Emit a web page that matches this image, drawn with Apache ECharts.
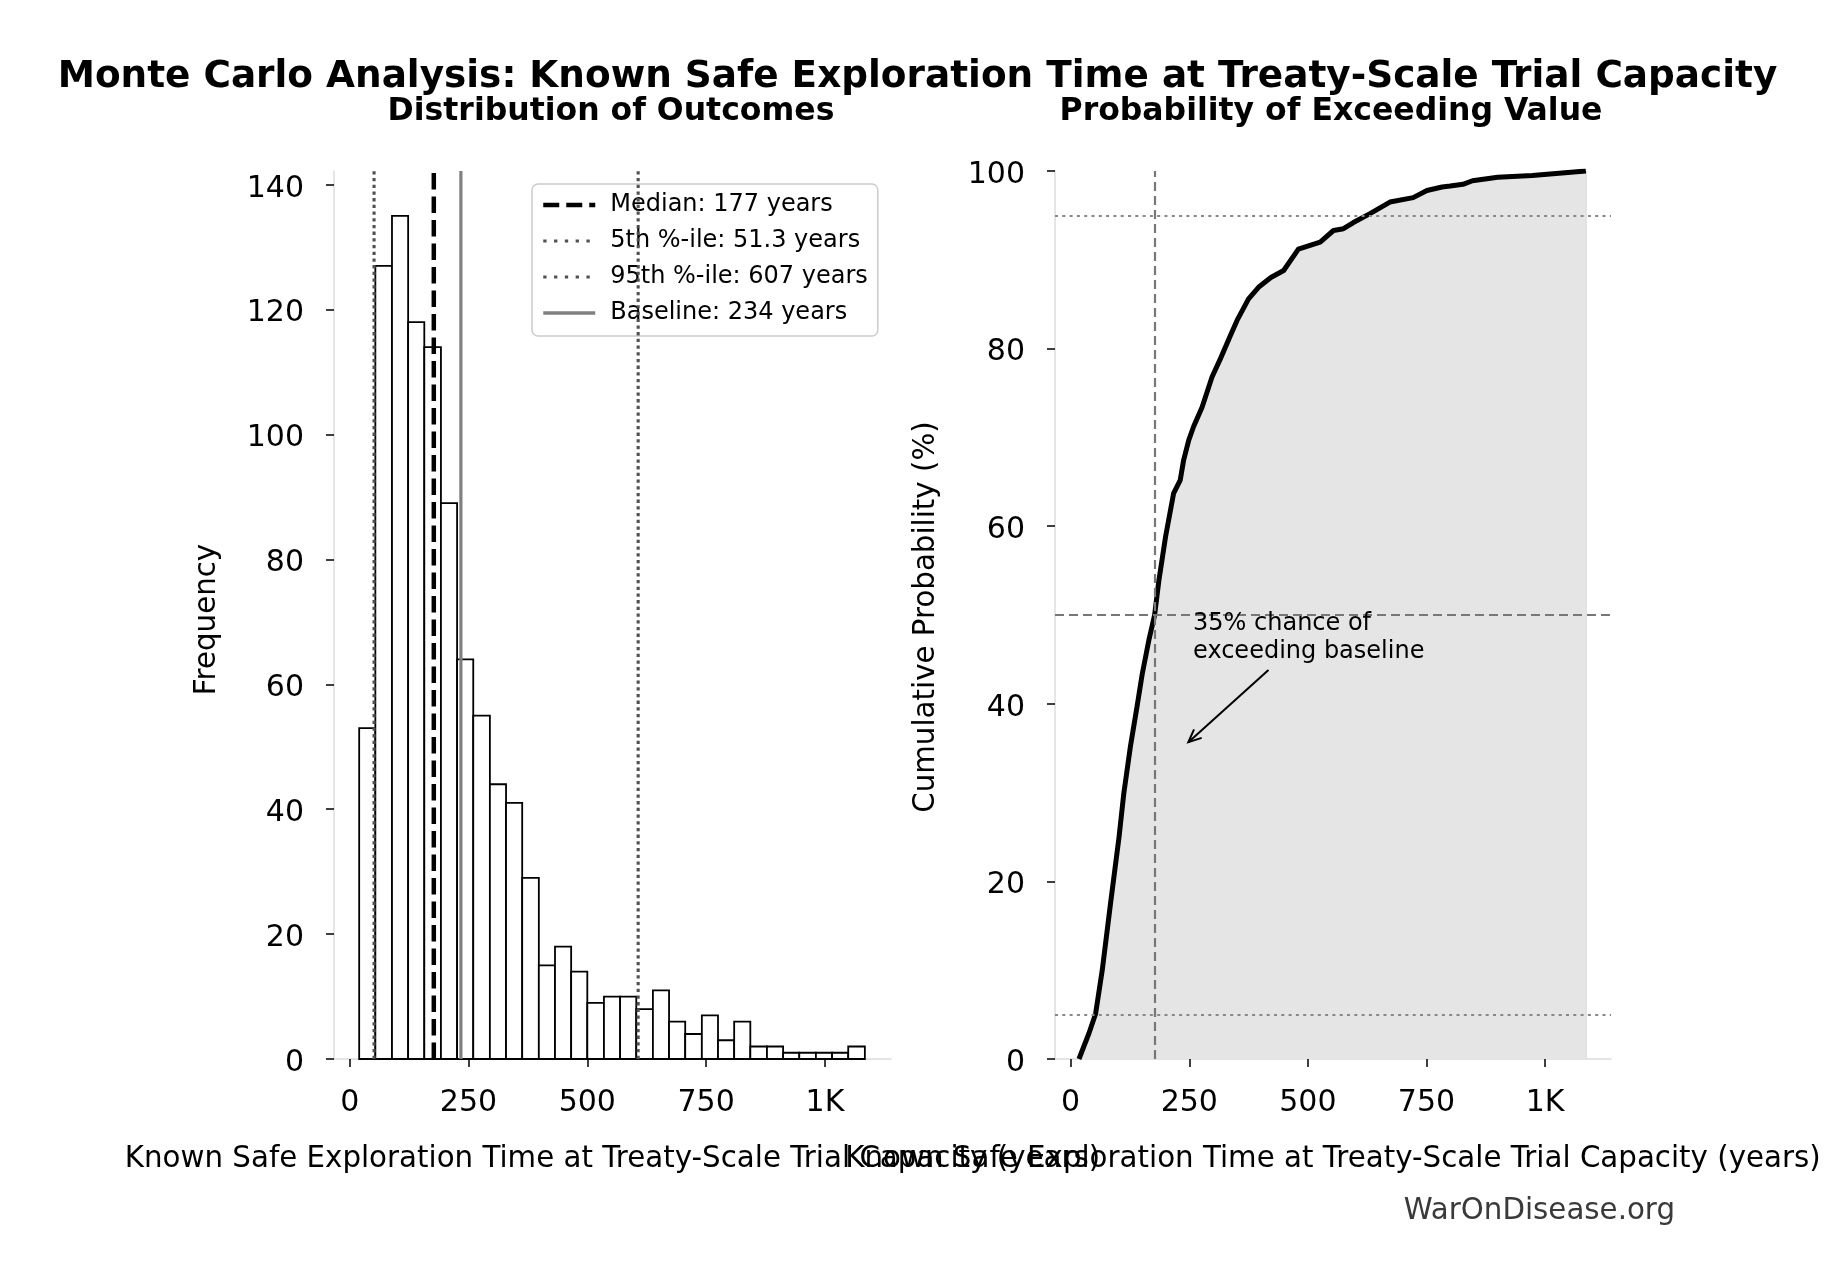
<!DOCTYPE html>
<html>
<head>
<meta charset="utf-8">
<script src="https://cdn.jsdelivr.net/npm/echarts@6/dist/echarts.min.js"></script>
<style>
  html, body { margin: 0; padding: 0; background: #fff; }
  #chart { width: 1835px; height: 1280px; }
</style>
</head>
<body>
<div id="chart"></div>
<script>
// histogram: bin edges (years) and counts
var binEdges = [20, 54, 89, 123, 157, 192, 226, 260, 295, 329, 363, 398, 432, 466, 500, 535,
                569, 603, 638, 672, 706, 741, 775, 809, 843, 878, 912, 946, 981, 1015, 1049, 1084];
var binCounts = [53, 127, 135, 118, 114, 89, 64, 55, 44, 41, 29, 15, 18, 14, 9, 10,
                 10, 8, 11, 6, 4, 7, 3, 6, 2, 2, 1, 1, 1, 1, 2];

// reference values (years)
var medianYears = 177;
var p5Years = 51.3;
var p95Years = 607;
var baselineYears = 234;

// cumulative curve: [years, cumulative %]
var cdfPoints = [
  [17.5, 0], [38.6, 2.9], [52.6, 5.1], [66.6, 10], [84, 17.5], [102, 25], [112, 29.9],
  [126, 35.2], [140, 39.7], [151, 43.4], [165, 47.2], [177, 50], [186, 53.9], [200, 58.8],
  [217, 63.7], [231, 65.2], [238, 67.4], [249, 69.7], [259, 71.2], [277, 73.4], [298, 76.8],
  [316, 78.9], [337, 81.5], [351, 83.2], [375, 85.6], [396, 86.9], [422, 88], [449, 88.8],
  [480, 91.2], [526, 92], [554, 93.3], [575, 93.5], [596, 94.2], [631, 95.2], [673, 96.5],
  [722, 97], [751, 97.8], [783, 98.2], [800, 98.3], [827, 98.5], [847, 98.9], [900, 99.3],
  [973, 99.5], [1086, 100]
];
var pctLines = [5, 50, 95];

// ticks
var xTicks = [0, 250, 500, 750, 1000];
var freqTicks = [0, 20, 40, 60, 80, 100, 120, 140];
var probTicks = [0, 20, 40, 60, 80, 100];

// annotation: arrow target, arrow tail and text anchor in data units
var annoTip = [234, 35];
var annoTail = [417, 43.8];
var annoText = [258, 50.6];

var FONT = 'DejaVu Sans';
var xName = 'Known Safe Exploration Time at Treaty-Scale Trial Capacity (years)';

var dom = document.getElementById('chart');
var myChart = echarts.init(dom, null, { renderer: 'canvas' });

function kFmt(v) {
  return v >= 1000 ? (v / 1000) + 'K' : String(v);
}

function xAxisFor(idx) {
  return {
    type: 'value', gridIndex: idx, min: -33, max: 1139,
    splitLine: { show: false },
    axisLine: { show: true, onZero: false, lineStyle: { color: '#dcdcdc', width: 1.5 } },
    axisTick: { show: true, customValues: xTicks, length: 8, lineStyle: { color: '#000', width: 1.5 } },
    axisLabel: { customValues: xTicks, formatter: kFmt, fontSize: 30, color: '#000', margin: 29.5, fontFamily: FONT },
    name: xName, nameLocation: 'middle', nameGap: 86,
    nameTextStyle: { fontSize: 29.3, color: '#000', fontFamily: FONT }
  };
}

function yAxisFor(idx, max, ticks, name, gap, shift) {
  return {
    type: 'value', gridIndex: idx, min: 0, max: max,
    splitLine: { show: false },
    axisLine: { show: true, onZero: false, lineStyle: { color: '#dcdcdc', width: 1.5 } },
    axisTick: { show: true, customValues: ticks, length: 8, lineStyle: { color: '#000', width: 1.5 } },
    axisLabel: {
      customValues: ticks, margin: 30,
      formatter: function (v) { return '{v|' + v + '}'; },
      rich: { v: { fontSize: 30, color: '#000', fontFamily: FONT, padding: [8, 0, 0, 0] } }
    },
    name: name, nameLocation: 'middle', nameGap: gap, nameRotate: 90,
    nameTextStyle: { fontSize: 29.3, color: '#000', fontFamily: FONT, padding: [0, shift, 0, 0] }
  };
}

var freqMax = 142.2;

var histData = binCounts.map(function (c, i) {
  return [binEdges[i], binEdges[i + 1], c];
});

function renderBin(params, api) {
  var topLeft = api.coord([api.value(0), api.value(2)]);
  var botRight = api.coord([api.value(1), 0]);
  return {
    type: 'rect',
    shape: { x: topLeft[0], y: topLeft[1], width: botRight[0] - topLeft[0], height: botRight[1] - topLeft[1] },
    style: { fill: '#fff', stroke: '#000', lineWidth: 1.8 }
  };
}

function vLine(name, x, color, width, type) {
  return {
    name: name, type: 'line', xAxisIndex: 0, yAxisIndex: 0,
    data: [[x, 0], [x, freqMax]],
    symbol: 'none', silent: true, z: 5,
    lineStyle: { color: color, width: width, type: type }
  };
}

var nameMedian = 'Median: ' + medianYears + ' years';
var nameP5 = '5th %-ile: ' + p5Years + ' years';
var nameP95 = '95th %-ile: ' + p95Years + ' years';
var nameBase = 'Baseline: ' + baselineYears + ' years';

var dotGray = '#505050';

var option = {
  animation: false,
  backgroundColor: '#fff',
  textStyle: { fontFamily: FONT },
  grid: [
    { left: 334, top: 171, width: 557, height: 888 },
    { left: 1055, top: 171, width: 556, height: 888 }
  ],
  xAxis: [xAxisFor(0), xAxisFor(1)],
  yAxis: [
    yAxisFor(0, freqMax, freqTicks, 'Frequency', 112, 9),
    yAxisFor(1, 100, probTicks, 'Cumulative Probability (%)', 114, 4)
  ],
  legend: {
    orient: 'vertical', left: 532, top: 184,
    data: [
      { name: nameMedian, lineStyle: { color: '#000', width: 4.5, type: [16, 7] } },
      { name: nameP5, lineStyle: { color: dotGray, width: 3.2, type: [3.3, 7.5] } },
      { name: nameP95, lineStyle: { color: dotGray, width: 3.2, type: [3.3, 7.5] } },
      { name: nameBase, lineStyle: { color: '#808080', width: 3.5, type: 'solid' } }
    ],
    backgroundColor: '#fff', borderColor: '#cccccc', borderWidth: 1.5, borderRadius: 6,
    padding: [9, 10, 11, 9],
    itemWidth: 52, itemHeight: 24, itemGap: 12,
    itemStyle: { opacity: 0 },
    textStyle: { fontSize: 24, color: '#000', fontFamily: FONT, padding: [0, 0, 0, 10] },
    selectedMode: false
  },
  series: [
    {
      type: 'custom', name: 'hist', xAxisIndex: 0, yAxisIndex: 0,
      renderItem: renderBin, data: histData,
      encode: { x: [0, 1], y: 2 }, silent: true, z: 2
    },
    vLine(nameP5, p5Years, dotGray, 3.1, [3.3, 3.4]),
    vLine(nameMedian, medianYears, '#000', 4.5, [16.5, 7]),
    vLine(nameBase, baselineYears, '#808080', 3.2, 'solid'),
    vLine(nameP95, p95Years, dotGray, 3.1, [3.3, 3.4]),
    {
      name: 'cdf', type: 'line', xAxisIndex: 1, yAxisIndex: 1,
      data: cdfPoints, symbol: 'none', smooth: false, silent: true, z: 4,
      lineStyle: { color: '#000', width: 5, join: 'round' },
      areaStyle: { color: '#e5e5e5', opacity: 1, origin: 'start' },
      markLine: {
        silent: true, symbol: 'none', animation: false, label: { show: false },
        data: [
          { yAxis: pctLines[0], lineStyle: { color: '#888', width: 2.2, type: [3, 4.3] } },
          { yAxis: pctLines[1], lineStyle: { color: '#777', width: 2.2, type: [9, 5] } },
          { yAxis: pctLines[2], lineStyle: { color: '#888', width: 2.2, type: [3, 4.3] } },
          { xAxis: medianYears, lineStyle: { color: '#777', width: 2.2, type: [9, 5] } }
        ]
      }
    },
    {
      name: 'edge', type: 'line', xAxisIndex: 1, yAxisIndex: 1,
      data: [[cdfPoints[cdfPoints.length - 1][0], 0], cdfPoints[cdfPoints.length - 1]],
      symbol: 'none', silent: true, z: 3,
      lineStyle: { color: '#cfcfcf', width: 1.5 }
    }
  ],
  graphic: [
    { type: 'text', x: 917.5, y: 77, style: { text: 'Monte Carlo Analysis: Known Safe Exploration Time at Treaty-Scale Trial Capacity', font: 'bold 37.4px "DejaVu Sans"', fill: '#000', textAlign: 'center', textVerticalAlign: 'middle' } },
    { type: 'text', x: 611, y: 111.5, style: { text: 'Distribution of Outcomes', font: 'bold 31.5px "DejaVu Sans"', fill: '#000', textAlign: 'center', textVerticalAlign: 'middle' } },
    { type: 'text', x: 1331, y: 111.5, style: { text: 'Probability of Exceeding Value', font: 'bold 31.5px "DejaVu Sans"', fill: '#000', textAlign: 'center', textVerticalAlign: 'middle' } },
    { type: 'text', x: 1675, y: 1211, style: { text: 'WarOnDisease.org', font: '29.3px "DejaVu Sans"', fill: '#3a3a3a', textAlign: 'right', textVerticalAlign: 'middle' } }
  ]
};

if (option && typeof option === 'object') {
  myChart.setOption(option);
}

// annotation placed through the right panel's scales
var finder = { xAxisIndex: 1, yAxisIndex: 1 };
var target = myChart.convertToPixel(finder, annoTip);
var tail = myChart.convertToPixel(finder, annoTail);
var txt = myChart.convertToPixel(finder, annoText);
var ang = Math.atan2(tail[1] - target[1], tail[0] - target[0]);
var shrink = 9;
var tip = [target[0] + shrink * Math.cos(ang), target[1] + shrink * Math.sin(ang)];
var headLen = 14, spread = 0.42;
var h1 = [tip[0] + headLen * Math.cos(ang + spread), tip[1] + headLen * Math.sin(ang + spread)];
var h2 = [tip[0] + headLen * Math.cos(ang - spread), tip[1] + headLen * Math.sin(ang - spread)];

myChart.setOption({
  graphic: option.graphic.concat([
    { type: 'line', shape: { x1: tail[0], y1: tail[1], x2: tip[0], y2: tip[1] }, style: { stroke: '#000', lineWidth: 2 }, z: 10 },
    { type: 'polyline', shape: { points: [h1, tip, h2] }, style: { stroke: '#000', lineWidth: 2, fill: null }, z: 10 },
    { type: 'text', x: txt[0], y: txt[1], z: 10, style: { text: '35% chance of\nexceeding baseline', font: '24px "DejaVu Sans"', fill: '#000', textAlign: 'left', textVerticalAlign: 'top', lineHeight: 28 } }
  ])
}, { replaceMerge: ['graphic'] });

window.addEventListener('resize', myChart.resize);
</script>
</body>
</html>
